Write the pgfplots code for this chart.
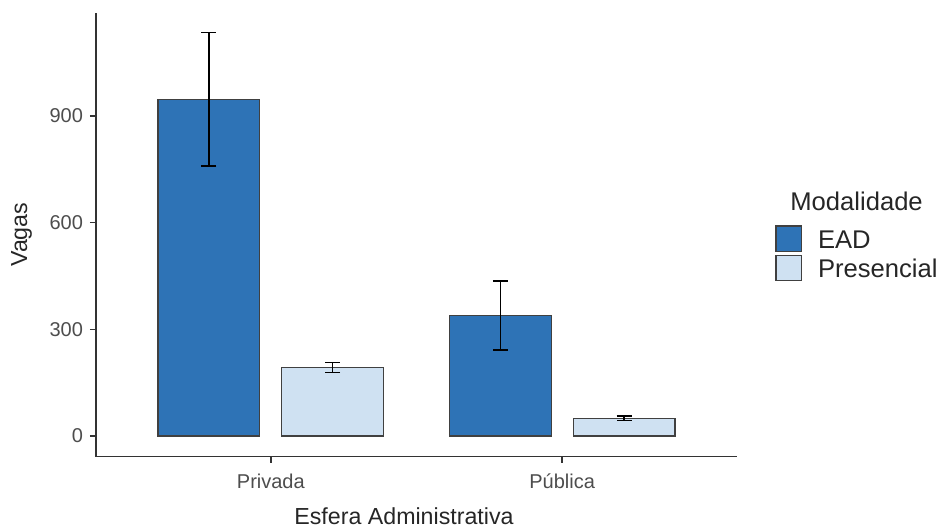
\documentclass[border=0pt]{standalone}
\usepackage{pgfplots}
\pgfplotsset{compat=1.18}
\usepackage{fontspec}
\setmainfont{Liberation Sans}
\definecolor{ead}{HTML}{2E73B6}
\definecolor{pres}{HTML}{CFE1F2}
\definecolor{edge}{HTML}{404040}
\definecolor{axisc}{HTML}{333333}
\definecolor{tickc}{HTML}{4D4D4D}
\definecolor{titc}{HTML}{262626}
\begin{document}
\begin{tikzpicture}
\useasboundingbox (0,0) rectangle (469.5pt,264pt);
\begin{axis}[
  at={(48pt,35.65pt)}, anchor=south west,
  scale only axis, width=320.5pt, height=222pt,
  xmin=0.4, xmax=2.6, ymin=-58, ymax=1190,
  axis lines=left, axis line style={-, axisc, line width=0.7pt},
  xtick={1,2}, xticklabels={Privada,Pública},
  ytick={0,300,600,900},
  tick align=outside, major tick length=3pt,
  tick style={axisc, line width=0.7pt},
  ticklabel style={font=\fontsize{10}{12}\selectfont, text=tickc},
  xticklabel style={yshift=-2pt},
  /pgf/number format/assume math mode=true,
  xlabel={Esfera Administrativa}, ylabel={Vagas},
  label style={font=\fontsize{11.6}{13}\selectfont, text=titc},
  xlabel style={at={(axis description cs:0.4805,-0.153)}, anchor=base},
  ylabel style={at={(axis description cs:-0.1076,0.5)}, anchor=base, rotate=0},
  ybar, bar width=0.35,
  legend style={at={(1.0593,0.5218)}, anchor=north west, draw=none, fill=none,
    inner sep=0pt, row sep=1.2pt, font=\fontsize{12.8}{14}\selectfont, text=titc,
    cells={anchor=base west},
    nodes={inner sep=0pt, text height=9.4pt, text depth=0pt}},
  legend image code/.code={\draw[#1] (0pt,-1.7pt) rectangle (12.8pt,11.1pt); \path[draw=none,fill=none] (0pt,4pt) -- (21pt,4pt);},
]
\addplot[fill=ead, draw=edge, line width=0.6pt, bar shift=-0.2125,
  error bars/.cd, y dir=both, y explicit,
  error bar style={black, line width=0.6pt},
  error mark options={rotate=90, mark size=3.75pt, black, line width=0.6pt}]
  coordinates {(1,947) +- (0,188) (2,339) +- (0,97)};
\addlegendentry{EAD}
\addplot[fill=pres, draw=edge, line width=0.6pt, bar shift=0.2125,
  error bars/.cd, y dir=both, y explicit,
  error bar style={black, line width=0.6pt},
  error mark options={rotate=90, mark size=3.75pt, black, line width=0.6pt}]
  coordinates {(1,193) +- (0,13.5) (2,50) +- (0,6.5)};
\addlegendentry{Presencial}
\end{axis}
\node[anchor=west, inner sep=0pt, text=titc, font=\fontsize{12.8}{14}\selectfont] at (395pt,163.5pt) {Modalidade};
\end{tikzpicture}
\end{document}
